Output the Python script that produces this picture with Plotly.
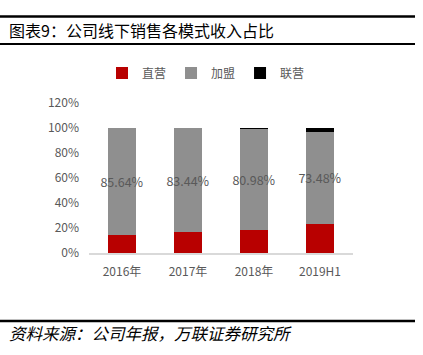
import plotly.graph_objects as go

categories = ["2016年", "2017年", "2018年", "2019H1"]
direct = [14.36, 16.56, 18.22, 23.50]
franchise = [85.64, 83.44, 80.98, 73.48]
joint = [0.0, 0.0, 0.80, 3.02]
franchise_labels = ["85.64%", "83.44%", "80.98%", "73.48%"]

FONT = "Noto Sans CJK SC"
GREY = "#595959"

L, R, T, B = 89, 70, 103, 102
PW, PH = 423 - L - R, 355 - T - B

def px_x(x):
    return (x - L) / PW

def px_y(y):
    return (355 - B - y) / PH

fig = go.Figure()
fig.add_trace(go.Bar(x=categories, y=[v / 100 for v in direct], name="直营",
                     marker=dict(color="#B80000", line=dict(width=0))))
fig.add_trace(go.Bar(x=categories, y=[v / 100 for v in franchise], name="加盟",
                     marker=dict(color="#8F8F8F", line=dict(width=0)),
                     text=franchise_labels, textposition="inside", textangle=0,
                     insidetextanchor="middle",
                     textfont=dict(color=GREY, size=12.5, family=FONT),
                     constraintext="none"))
fig.add_trace(go.Bar(x=categories, y=[v / 100 for v in joint], name="联营",
                     marker=dict(color="#000000", line=dict(width=0))))

fig.update_layout(
    barmode="stack",
    bargap=0.59,
    width=423, height=355,
    margin=dict(l=L, r=R, t=T, b=B, autoexpand=False),
    paper_bgcolor="white", plot_bgcolor="white",
    font=dict(family=FONT, color=GREY, size=12),
    showlegend=True,
    legend=dict(orientation="h", x=px_x(206), xanchor="center",
                y=px_y(73), yanchor="middle",
                font=dict(size=12, color=GREY, family=FONT),
                itemwidth=30, traceorder="normal", itemclick=False,
                bgcolor="rgba(0,0,0,0)"),
)
fig.update_yaxes(range=[0, 1.2], dtick=0.2, tickformat=".0%", showgrid=False,
                 zeroline=False, showline=False, ticks="", automargin=False,
                 ticklabelstandoff=9,
                 tickfont=dict(size=12, color=GREY, family=FONT))
fig.update_xaxes(showline=True, linecolor="#D9D9D9", linewidth=1.5, ticks="",
                 automargin=False, ticklabelstandoff=7,
                 tickfont=dict(size=12, color=GREY, family=FONT))

def hline(ypix, w):
    y = px_y(ypix)
    return dict(type="line", xref="paper", yref="paper",
                x0=px_x(0), x1=px_x(415), y0=y, y1=y,
                line=dict(color="black", width=w))

fig.add_shape(**hline(16.5, 2.5))
fig.add_shape(**hline(44, 2))
fig.add_shape(**hline(321, 2.5))

fig.add_annotation(text="图表9：公司线下销售各模式收入占比", xref="paper", yref="paper",
                   x=px_x(7), y=px_y(30), xanchor="left", yanchor="middle",
                   showarrow=False, font=dict(size=16, color="black", family=FONT))
fig.add_annotation(text="<i>资料来源：公司年报，万联证券研究所</i>", xref="paper", yref="paper",
                   x=px_x(7), y=px_y(333), xanchor="left", yanchor="middle",
                   showarrow=False, font=dict(size=16.5, color="black", family=FONT))

fig.write_html("out.html", config={"displayModeBar": False},
               post_script="document.body.style.margin='0';")
